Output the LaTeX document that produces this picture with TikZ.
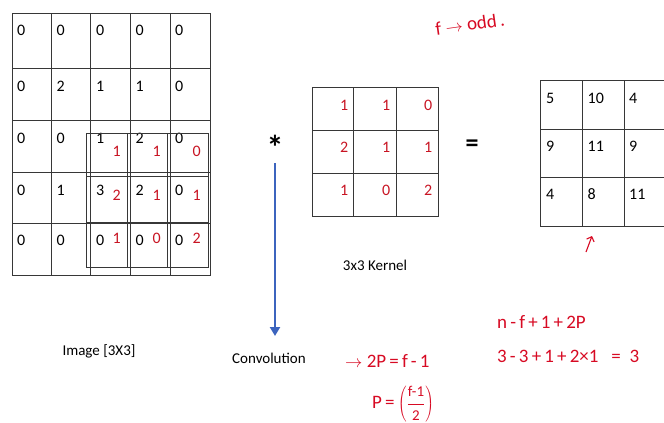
\documentclass[tikz,border=0pt]{standalone}
\usepackage{fontspec}
\setmainfont{Carlito}
\usetikzlibrary{arrows.meta}
\definecolor{gridc}{RGB}{55,55,55}
\definecolor{redc}{RGB}{200,20,35}
\definecolor{bluec}{RGB}{60,100,190}
\definecolor{hand}{RGB}{215,10,35}
\begin{document}
\begin{tikzpicture}[x=1pt,y=-1pt,
  font=\fontsize{15}{18}\selectfont,
  gridline/.style={draw=gridc, line width=0.9pt},
  blk/.style={anchor=west, inner sep=0pt, text=black, font=\fontsize{16}{18}\selectfont},
  rd/.style={anchor=east, inner sep=0pt, text=redc, font=\fontsize{16}{18}\selectfont},
  lbl/.style={inner sep=0pt},
  handw/.style={text=hand, inner sep=0pt, font=\fontsize{19}{21}\selectfont}]
\useasboundingbox (0,0) rectangle (664,423);
\clip (0,0) rectangle (664,423);

% ---------- image grid ----------
\draw[gridline] (12,13) rectangle (210,275);
\foreach \x in {51,90,130,170} \draw[gridline] (\x,13) -- (\x,275);
\foreach \y in {68,120,172,223} \draw[gridline] (12,\y) -- (210,\y);

\foreach \row/\yy [count=\r] in {{0,0,0,0,0}/30,{0,2,1,1,0}/86,{0,0,1,2,0}/138,{0,1,3,2,0}/190,{0,0,0,0,0}/240} {
  \foreach \v [count=\c] in \row {
    \node[blk] (im-\r-\c) at ({17+39.5*(\c-1)},\yy) {\v};
  }
}

% ---------- kernel overlay ----------
\draw[gridline] (86,133) rectangle (208,267);
\foreach \x in {127,167} \draw[gridline] (\x,133) -- (\x,267);
\foreach \y in {172,176,222} \draw[gridline] (86,\y) -- (208,\y);

\foreach \row/\yy [count=\r] in {{1,1,0}/151,{2,1,1}/195,{1,0,2}/238} {
  \foreach \v [count=\c] in \row {
    \node[rd] (ov-\r-\c) at ({121+40*(\c-1)},\yy) {\v};
  }
}

% ---------- kernel ----------
\draw[gridline] (312,87) rectangle (438,216);
\foreach \x in {353,396} \draw[gridline] (\x,87) -- (\x,216);
\foreach \y in {130,173} \draw[gridline] (312,\y) -- (438,\y);
\foreach \row/\yy [count=\r] in {{1,1,0}/105,{2,1,1}/147,{1,0,2}/190} {
  \foreach \v [count=\c] in \row {
    \node[rd] (k-\r-\c) at ({348.5+42*(\c-1)},\yy) {\v};
  }
}
\node[lbl] (kernlabel) at (375,265) {3x3 Kernel};

% ---------- output ----------
\draw[gridline] (540,80) rectangle (668,226);
\foreach \x in {582,624} \draw[gridline] (\x,80) -- (\x,226);
\foreach \y in {129,177} \draw[gridline] (540,\y) -- (668,\y);
\foreach \row/\yy [count=\r] in {{5,10,4}/98,{9,11,9}/146,{4,8,11}/194} {
  \foreach \v [count=\c] in \row {
    \node[blk] (o-\r-\c) at ({546+41.5*(\c-1)},\yy) {\v};
  }
}

% ---------- operators & labels ----------
\node[lbl, font=\bfseries\fontsize{34}{34}\selectfont] (star) at (275,147) {*};
\node[lbl, font=\bfseries\fontsize{26}{26}\selectfont] (eqsign) at (472,146) {=};
\node[lbl] (imglabel) at (99,351) {Image [3X3]};
\node[lbl] (convlabel) at (269,358) {Convolution};

\coordinate (arrS) at (275,163);
\coordinate (arrE) at (275,336);
\draw[bluec, line width=2.6pt, -{Triangle[width=10pt,length=9pt]}] (arrS) -- (arrE);

% ---------- handwritten notes ----------
\node[handw, rotate=8] (fodd) at (470,24) {f $\rightarrow$ odd\,.};
\coordinate (ha1) at (586,252);
\coordinate (ha2) at (592,236);
\draw[hand, line width=1.1pt, -{Straight Barb[length=4pt]}] (ha1) -- (ha2);

\node[handw, anchor=west] (eq1) at (497,322) {n\,-\,f\,+\,1\,+\,2P};
\node[handw, anchor=west] (eq2) at (497,356) {3\,-\,3\,+\,1\,+\,2×1\ \ \ =\ \ 3};
\node[handw, anchor=west] (eq3) at (345,361) {$\rightarrow$\ 2P\,=\,f\,-\,1};
\node[handw, anchor=west] (eq4) at (372,404) {P\,=\,$\displaystyle\left(\frac{\mbox{\fontsize{15}{15}\selectfont f-1}}{\mbox{\fontsize{15}{15}\selectfont 2}}\right)$};
\end{tikzpicture}
\end{document}
